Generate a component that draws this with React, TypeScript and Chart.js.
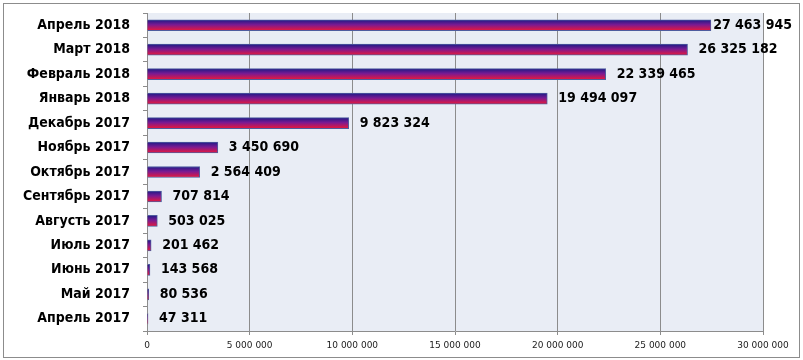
import React, { useEffect, useRef } from "react";
import { Chart, registerables } from "chart.js";

Chart.register(...registerables);

const categories = [
  "Апрель 2018",
  "Март 2018",
  "Февраль 2018",
  "Январь 2018",
  "Декабрь 2017",
  "Ноябрь 2017",
  "Октябрь 2017",
  "Сентябрь 2017",
  "Августь 2017",
  "Июль 2017",
  "Июнь 2017",
  "Май 2017",
  "Апрель 2017",
];

const values = [
  27463945, 26325182, 22339465, 19494097, 9823324, 3450690, 2564409, 707814,
  503025, 201462, 143568, 80536, 47311,
];

const xMin = 0;
const xMax = 30000000;
const xStep = 5000000;

const fmt = (v: number) =>
  String(Math.round(v)).replace(/\B(?=(\d{3})+(?!\d))/g, " ");

const BAR_H = 11;
const LABEL_FONT = "bold 14px 'DejaVu Sans Condensed', 'DejaVu Sans', sans-serif";

const bgPlugin = {
  id: "plotBg",
  beforeDraw(chart: any) {
    const { ctx, chartArea } = chart;
    if (!chartArea) return;
    ctx.save();
    ctx.fillStyle = "#E9EDF5";
    ctx.fillRect(
      chartArea.left,
      chartArea.top,
      chartArea.right - chartArea.left,
      chartArea.bottom - chartArea.top
    );
    ctx.restore();
  },
};

const labelPlugin = {
  id: "valueLabels",
  afterDatasetsDraw(chart: any) {
    const { ctx } = chart;
    const meta = chart.getDatasetMeta(0);
    ctx.save();
    ctx.font = LABEL_FONT;
    ctx.fillStyle = "#000";
    ctx.textBaseline = "middle";
    ctx.textAlign = "left";
    const maxRight = chart.width - 11;
    meta.data.forEach((el: any, i: number) => {
      const txt = fmt(values[i]);
      const w = ctx.measureText(txt).width;
      let x = el.x + 11;
      if (x + w > maxRight) x = Math.max(el.x + 1, maxRight - w);
      ctx.fillText(txt, x, el.y);
    });
    ctx.restore();
  },
};

export default function App() {
  const ref = useRef<HTMLCanvasElement | null>(null);

  useEffect(() => {
    if (!ref.current) return;
    const chart = new Chart(ref.current, {
      type: "bar",
      data: {
        labels: categories,
        datasets: [
          {
            data: values,
            barThickness: BAR_H,
            borderWidth: 1,
            borderColor: "#4F5C9E",
            borderSkipped: "left",
            backgroundColor: (context: any) => {
              const chart = context.chart;
              const yScale = chart.scales.y;
              const c = chart.ctx;
              if (!yScale || !chart.chartArea) return "#7a2a8a";
              const yc = yScale.getPixelForValue(context.dataIndex);
              const g = c.createLinearGradient(0, yc - BAR_H / 2, 0, yc + BAR_H / 2);
              g.addColorStop(0, "#1C1A86");
              g.addColorStop(0.45, "#7A1A92");
              g.addColorStop(1, "#EC1838");
              return g;
            },
          },
        ],
      },
      options: {
        indexAxis: "y",
        animation: false,
        responsive: false,
        maintainAspectRatio: false,
        events: [],
        layout: { padding: { left: 0, right: 40, top: 13, bottom: 0 } },
        plugins: {
          legend: { display: false },
          tooltip: { enabled: false },
        },
        scales: {
          x: {
            min: xMin,
            max: xMax,
            ticks: {
              stepSize: xStep,
              color: "#222",
              font: { family: "Tahoma, 'DejaVu Sans', sans-serif", size: 9 },
              padding: 5,
              callback: (v: any) => fmt(Number(v)),
              maxRotation: 0,
            },
            grid: {
              color: "#8C8C8C",
              lineWidth: 1,
              drawTicks: true,
              tickLength: 4,
            },
            border: { color: "#8C8C8C", width: 1 },
            afterFit: (scale: any) => {
              scale.height = 29;
              scale.paddingLeft = 0;
              scale.paddingRight = 0;
            },
          },
          y: {
            ticks: {
              color: "#000",
              font: {
                family: "'DejaVu Sans Condensed', 'DejaVu Sans', sans-serif",
                size: 14,
                weight: "bold",
              },
              padding: 13,
            },
            grid: {
              drawOnChartArea: false,
              drawTicks: true,
              tickLength: 4,
              color: "#8C8C8C",
              offset: true,
            },
            border: { color: "#8C8C8C", width: 1 },
            afterFit: (scale: any) => {
              scale.width = 147;
              scale.paddingTop = 0;
              scale.paddingBottom = 0;
            },
          },
        },
      },
      plugins: [bgPlugin, labelPlugin],
    });
    return () => chart.destroy();
  }, []);

  return (
    <div style={{ position: "fixed", left: 0, top: 0, width: 803, height: 360, background: "#fff" }}>
      <canvas ref={ref} width={803} height={360} style={{ position: "absolute", left: 0, top: 0 }} />
      <div
        style={{
          position: "absolute",
          left: 3,
          top: 3,
          width: 795,
          height: 353,
          border: "1px solid #8C8C8C",
          pointerEvents: "none",
        }}
      />
    </div>
  );
}
